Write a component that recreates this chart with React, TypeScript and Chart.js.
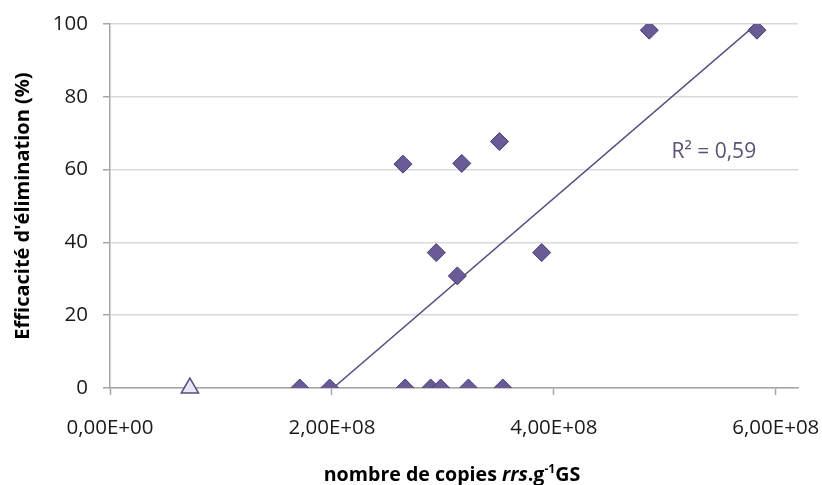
import { useEffect, useRef } from "react";
import { Chart, registerables } from "chart.js";

Chart.register(...registerables);

// Main series: copies rrs per g GS vs removal efficiency (%)
const copies = [1.71e8, 1.98e8, 2.66e8, 2.89e8, 2.98e8, 3.23e8, 3.54e8, 2.64e8, 3.17e8, 3.51e8, 4.86e8, 5.83e8, 2.94e8, 3.13e8, 3.89e8];
const efficiency = [0, 0, 0, 0, 0, 0, 0, 61.5, 61.7, 67.7, 98.3, 98.3, 37.2, 30.8, 37.2];
// Reference point (triangle)
const refCopies = [0.72e8];
const refEfficiency = [0];

const xTickValues = [0, 2e8, 4e8, 6e8];
const yTickValues = [0, 20, 40, 60, 80, 100];
const r2Label = "R² = 0,59";
const yTitle = "Efficacité d'élimination (%)";
const xTitleParts = [
  { text: "nombre de copies ", style: "bold", sup: false },
  { text: "rrs", style: "italic bold", sup: false },
  { text: ".g", style: "bold", sup: false },
  { text: "-1", style: "bold", sup: true },
  { text: "GS", style: "bold", sup: false },
];

function linReg(xs: number[], ys: number[]) {
  const n = xs.length;
  const mx = xs.reduce((a, b) => a + b, 0) / n;
  const my = ys.reduce((a, b) => a + b, 0) / n;
  let sxy = 0, sxx = 0;
  for (let i = 0; i < n; i++) {
    sxy += (xs[i] - mx) * (ys[i] - my);
    sxx += (xs[i] - mx) * (xs[i] - mx);
  }
  const a = sxy / sxx;
  return { a, b: my - a * mx };
}

function fmtExp(v: number) {
  const s = v.toExponential(2);
  const [m, e] = s.split("e");
  const sign = e[0] === "-" ? "-" : "+";
  const ex = Math.abs(parseInt(e, 10)).toString().padStart(2, "0");
  return m.replace(".", ",") + "E" + sign + ex;
}

const FONT = "'Open Sans', 'DejaVu Sans', sans-serif";

export default function App() {
  const ref = useRef<HTMLCanvasElement | null>(null);

  useEffect(() => {
    if (!ref.current) return;
    const { a, b } = linReg(copies, efficiency);
    const minX = Math.min(...copies);
    const maxX = Math.max(...copies);
    const xStart = Math.max(minX, -b / a);
    const trend = [
      { x: xStart, y: a * xStart + b },
      { x: maxX, y: a * maxX + b },
    ];

    const overlay = {
      id: "overlay",
      afterDraw(chart: any) {
        const ctx = chart.ctx;
        const xs = chart.scales.x;
        const ys = chart.scales.y;
        ctx.save();
        ctx.font = `21px ${FONT}`;
        ctx.fillStyle = "#5d5173";
        ctx.textAlign = "left";
        ctx.textBaseline = "middle";
        ctx.fillText(r2Label, xs.getPixelForValue(5.06e8), ys.getPixelForValue(64.8));
        const size = 19.6;
        const parts = xTitleParts.map((p) => {
          const fs = p.sup ? size * 0.62 : size;
          const font = `${p.style} ${fs}px ${FONT}`;
          ctx.font = font;
          return { ...p, font, w: ctx.measureText(p.text).width };
        });
        const total = parts.reduce((s, p) => s + p.w, 0);
        let x = 452 - total / 2;
        const base = 481;
        ctx.fillStyle = "#000";
        ctx.textBaseline = "alphabetic";
        for (const p of parts) {
          ctx.font = p.font;
          ctx.fillText(p.text, x, p.sup ? base - size * 0.4 : base);
          x += p.w;
        }
        ctx.restore();
      },
    };

    const chart = new Chart(ref.current, {
      type: "scatter",
      data: {
        datasets: [
          {
            label: "trend",
            type: "line",
            data: trend,
            borderColor: "#5a4b80",
            borderWidth: 1.5,
            pointRadius: 0,
            fill: false,
            order: 2,
          } as any,
          {
            label: "données",
            data: copies.map((x, i) => ({ x, y: efficiency[i] })),
            pointStyle: "rectRot",
            pointRadius: 9,
            pointBackgroundColor: "#6a5a95",
            pointBorderColor: "#4a3d6e",
            pointBorderWidth: 1,
            order: 1,
          },
          {
            label: "référence",
            data: refCopies.map((x, i) => ({ x, y: refEfficiency[i] })),
            pointStyle: "triangle",
            pointRadius: 10,
            pointBackgroundColor: "#ebe7f3",
            pointBorderColor: "#5a4b80",
            pointBorderWidth: 1.5,
            order: 0,
            clip: false,
          },
        ],
      },
      options: {
        responsive: false,
        animation: false,
        events: [],
        layout: { padding: { top: 24, right: 24, left: 0, bottom: 0 } },
        plugins: { legend: { display: false }, tooltip: { enabled: false } },
        scales: {
          x: {
            type: "linear",
            min: 0,
            max: 6.2e8,
            afterBuildTicks: (s: any) => {
              s.ticks = xTickValues.map((v) => ({ value: v }));
            },
            afterFit: (s: any) => {
              s.height = 97;
              s.paddingLeft = 0;
              s.paddingRight = 0;
            },
            ticks: {
              callback: (v: any) => fmtExp(Number(v)),
              font: { family: FONT, size: 20.5 },
              color: "#1a1a1a",
              padding: 21,
              maxRotation: 0,
            },
            grid: {
              drawOnChartArea: false,
              drawTicks: true,
              tickLength: 7,
              tickColor: "#a6a6a6",
              tickWidth: 1.5,
            },
            border: { color: "#a6a6a6", width: 1.5 },
          },
          y: {
            min: 0,
            max: 100,
            afterBuildTicks: (s: any) => {
              s.ticks = yTickValues.map((v) => ({ value: v }));
            },
            afterFit: (s: any) => {
              s.width = 110;
              s.paddingTop = 0;
              s.paddingBottom = 0;
            },
            ticks: {
              font: { family: FONT, size: 20.5 },
              color: "#1a1a1a",
              padding: 15,
            },
            grid: {
              color: "#d9d9d9",
              lineWidth: 1.5,
              drawTicks: true,
              tickLength: 7,
              tickColor: "#a6a6a6",
            },
            border: { color: "#a6a6a6", width: 1.5 },
            title: {
              display: true,
              text: yTitle,
              font: { family: FONT, size: 20, weight: "bold" },
              color: "#000",
              padding: { top: 11, bottom: 0 },
            },
          },
        },
      },
      plugins: [overlay],
    });
    return () => chart.destroy();
  }, []);

  return (
    <div style={{ position: "absolute", left: 0, top: 0, width: 822, height: 485, background: "#fff" }}>
      <canvas ref={ref} width={822} height={485} style={{ display: "block" }} />
    </div>
  );
}
